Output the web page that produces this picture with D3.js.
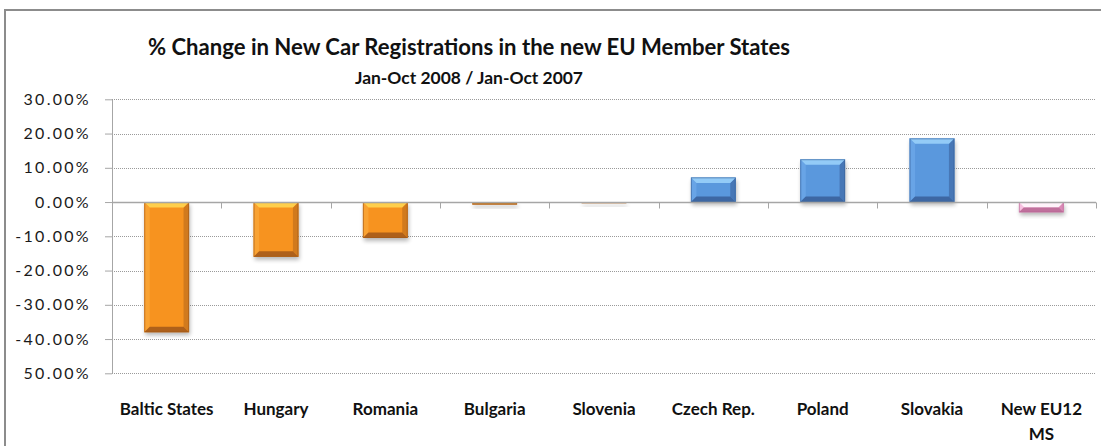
<!DOCTYPE html>
<html>
<head>
<meta charset="utf-8">
<script src="https://cdn.jsdelivr.net/npm/d3@7"></script>
<style>
  html, body { margin: 0; padding: 0; background: #fff; }
  svg { display: block; }
</style>
</head>
<body>
<svg id="chart" width="1101" height="446"></svg>
<script>
// Percentage change in new car registrations, Jan-Oct 2008 vs Jan-Oct 2007
const categories = ["Baltic States", "Hungary", "Romania", "Bulgaria", "Slovenia",
                    "Czech Rep.", "Poland", "Slovakia", "New EU12\nMS"];
const values = [-38.0, -16.0, -10.5, -0.7, -0.3, 7.2, 12.5, 18.6, -3.0];
const barGroups = ["fall", "fall", "fall", "fall", "fall", "rise", "rise", "rise", "total"];
const tickValues = [30, 20, 10, 0, -10, -20, -30, -40, -50];
const tickLabels = ["30.00%", "20.00%", "10.00%", "0.00%", "-10.00%", "-20.00%",
                    "-30.00%", "-40.00%", "50.00%"];
const titleText = "% Change in New Car Registrations in the new EU Member States";
const subtitleText = "Jan-Oct 2008 / Jan-Oct 2007";

// bevel shades per group: face, top, left, right, bottom, outline
const palette = {
  fall:  { face: "#F7931F", top: "#FFCF4C", left: "#F9A232", right: "#D17A1D", bottom: "#AE601A", line: "#A0581A" },
  rise:  { face: "#5A98DD", top: "#93CBF7", left: "#68A4E6", right: "#4777B6", bottom: "#3D67A3", line: "#3A629A" },
  total: { face: "#F4AAD4", top: "#FFF3FA", left: "#F7C0E0", right: "#DB8BB8", bottom: "#C0709C", line: "#B86894" }
};

const svg = d3.select("#chart");
const margin = { left: 112, right: 1096, top: 99.3, bottom: 373.3 };

const x = d3.scaleBand()
  .domain(categories)
  .range([margin.left, margin.right])
  .paddingInner(0.59)
  .paddingOuter(0.295);

const y = d3.scaleLinear()
  .domain([-50, 30])
  .range([margin.bottom, margin.top]);

// outer frame (top and left edges)
svg.append("line").attr("x1", 4).attr("x2", 1101).attr("y1", 10).attr("y2", 10)
  .attr("stroke", "#8c8c8c").attr("stroke-width", 2);
svg.append("line").attr("x1", 5).attr("x2", 5).attr("y1", 9).attr("y2", 446)
  .attr("stroke", "#8c8c8c").attr("stroke-width", 2);

// titles: bold face squeezed to the heading width
const fontFamily = "Lato, 'Open Sans', sans-serif";
function heading(txt, cx, baseline, size, width) {
  return svg.append("text")
    .attr("x", cx).attr("y", baseline)
    .attr("text-anchor", "middle")
    .attr("font-family", fontFamily)
    .attr("font-weight", 700)
    .attr("font-size", size)
    .attr("textLength", width)
    .attr("lengthAdjust", "spacingAndGlyphs")
    .attr("fill", "#111")
    .text(txt);
}
heading(titleText, 469, 55, 22.5, 642);
heading(subtitleText, 469, 84, 17.5, 228);

// shadow filter for bars
const defs = svg.append("defs");
const f = defs.append("filter").attr("id", "barShadow")
  .attr("x", "-30%").attr("y", "-30%").attr("width", "160%").attr("height", "160%");
f.append("feGaussianBlur").attr("stdDeviation", 2.2);

// gridlines
svg.append("g")
  .selectAll("line")
  .data(tickValues.filter(v => v !== 0))
  .join("line")
  .attr("x1", margin.left).attr("x2", margin.right)
  .attr("y1", d => Math.round(y(d)) + 0.5).attr("y2", d => Math.round(y(d)) + 0.5)
  .attr("stroke", "#9a9a9a")
  .attr("stroke-width", 1)
  .attr("stroke-dasharray", "1,1");

// y axis
const yAxis = svg.append("g")
  .attr("transform", `translate(${margin.left},0)`)
  .call(d3.axisLeft(y)
    .tickValues(tickValues)
    .tickFormat((d, i) => tickLabels[i])
    .tickSize(7)
    .tickPadding(14)
    .tickSizeOuter(0));
yAxis.select(".domain").attr("stroke", "#a6a6a6");
yAxis.selectAll(".tick line").attr("stroke", "#a6a6a6");
yAxis.selectAll(".tick text")
  .attr("font-family", fontFamily)
  .attr("font-size", 16)
  .attr("letter-spacing", "2.3px")
  .attr("fill", "#1a1a1a");

// bars
const barsG = svg.append("g");
const data = categories.map((c, i) => ({ cat: c, value: values[i], group: barGroups[i] }));

data.forEach(d => {
  const x0 = x(d.cat), x1 = x0 + x.bandwidth();
  const yT = Math.min(y(d.value), y(0)), yB = Math.max(y(d.value), y(0));
  const h = yB - yT, w = x1 - x0;
  const p = palette[d.group];
  const b = Math.max(0, Math.min(5.5, h / 2, w / 2));
  const g = barsG.append("g");

  // soft drop shadow
  g.append("rect")
    .attr("x", x0 + 1).attr("y", yT + 3)
    .attr("width", w).attr("height", Math.max(h, 1.5))
    .attr("fill", "#000").attr("opacity", 0.28)
    .attr("filter", "url(#barShadow)");

  g.append("rect")
    .attr("x", x0).attr("y", yT).attr("width", w).attr("height", Math.max(h, 1))
    .attr("fill", p.face);

  const poly = pts => pts.map(q => q.join(",")).join(" ");
  g.append("polygon").attr("fill", p.left)
    .attr("points", poly([[x0, yT], [x0 + b, yT + b], [x0 + b, yB - b], [x0, yB]]));
  g.append("polygon").attr("fill", p.right)
    .attr("points", poly([[x1, yT], [x1 - b, yT + b], [x1 - b, yB - b], [x1, yB]]));
  g.append("polygon").attr("fill", p.bottom)
    .attr("points", poly([[x0, yB], [x0 + b, yB - b], [x1 - b, yB - b], [x1, yB]]));
  g.append("polygon").attr("fill", p.top)
    .attr("points", poly([[x0, yT], [x1, yT], [x1 - b, yT + b], [x0 + b, yT + b]]));

  g.append("rect")
    .attr("x", x0 + 0.5).attr("y", yT + 0.5)
    .attr("width", Math.max(w - 1, 0)).attr("height", Math.max(h - 1, 0.5))
    .attr("fill", "none").attr("stroke", p.line).attr("stroke-width", 1).attr("opacity", 0.6);
});

// zero line with category boundary ticks
const y0 = Math.round(y(0)) + 0.5;
svg.append("line")
  .attr("x1", margin.left).attr("x2", margin.right)
  .attr("y1", y0).attr("y2", y0)
  .attr("stroke", "#a6a6a6").attr("stroke-width", 1.5);
const bounds = categories.map(c => x(c) + x.bandwidth() / 2 + x.step() / 2);
svg.append("g").selectAll("line")
  .data(bounds)
  .join("line")
  .attr("x1", d => Math.round(d) + 0.5).attr("x2", d => Math.round(d) + 0.5)
  .attr("y1", y0).attr("y2", y0 + 6)
  .attr("stroke", "#a6a6a6");

// category labels
const xAxis = svg.append("g")
  .attr("transform", `translate(0,${y(-50)})`)
  .call(d3.axisBottom(x).tickSize(0).tickPadding(0).tickFormat(""));
xAxis.select(".domain").remove();
xAxis.selectAll(".tick").each(function(d) {
  const t = d3.select(this).select("text")
    .attr("y", 0)
    .attr("dy", null)
    .attr("font-family", fontFamily)
    .attr("font-weight", 700)
    .attr("font-size", 17)
    .attr("fill", "#111");
  d.split("\n").forEach((line, i) => {
    t.append("tspan").attr("x", 0).attr("y", 42 + i * 25).text(line);
  });
});
</script>
</body>
</html>
